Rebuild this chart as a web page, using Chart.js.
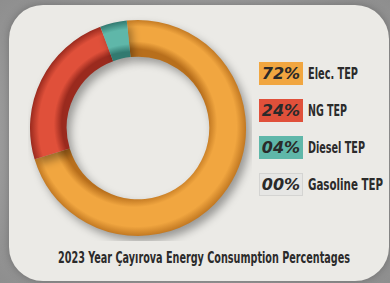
<!DOCTYPE html>
<html>
<head>
<meta charset="utf-8">
<script src="https://cdn.jsdelivr.net/npm/chart.js@4.4.0/dist/chart.umd.min.js"></script>
<style>
  html, body { margin: 0; padding: 0; }
  body {
    width: 390px; height: 283px; overflow: hidden; position: relative;
    background: radial-gradient(ellipse at 50% 50%, #b9b9b9 0%, #8e8e8e 100%);
    font-family: "DejaVu Sans", sans-serif;
  }
  #panel {
    position: absolute; left: 9px; top: 5px; width: 380px; height: 276px;
    background: #ebeae6; border-radius: 34px;
    box-shadow: 0 0 8px rgba(0,0,0,0.25);
  }
  #wrap { position: absolute; left: 28px; top: 15px; width: 224px; height: 226px; }
  #legend { position: absolute; left: 259px; top: 62px; }
  .row { display: flex; align-items: center; height: 23px; margin-bottom: 14px; white-space: nowrap; }
  .box {
    width: 44px; height: 23px; line-height: 23px; text-align: center;
    font-style: italic; font-weight: bold;
    font-size: 16px; color: #2a2a2a;
  }
  .lbl { margin-left: 5px; font-weight: bold; font-size: 16px; color: #2b2b2b; display: inline-block; transform-origin: 0 50%; }
  #title {
    position: absolute; left: 58px; top: 249px; white-space: nowrap;
    font-weight: bold; font-size: 15px; color: #2b2b2b; transform-origin: 0 50%;
  }
</style>
</head>
<body>
<div id="panel"></div>
<div id="wrap"><canvas id="graph"></canvas></div>
<div id="legend"></div>
<div id="title">2023 Year Çayırova Energy Consumption Percentages</div>
<script>
// data
const labels = ['Elec. TEP', 'NG TEP', 'Diesel TEP', 'Gasoline TEP'];
const percents = [72, 24, 4, 0];
const percentText = ['72%', '24%', '04%', '00%'];
const colors = ['#f1a640', '#e0503a', '#5fb7a9', '#e6e6e4'];
const shades = ['#b86f1c', '#9a2a1e', '#327a70', '#bdbdbd'];
// widths of the condensed labels in the picture
const labelWidths = [50, 39, 57, 75];

// tube-like shading for the ring
function ringFill(ctx) {
  const chart = ctx.chart;
  const area = chart.chartArea;
  if (!area) return colors[ctx.dataIndex];
  const arc = chart.getDatasetMeta(0).data[0];
  if (!arc) return colors[ctx.dataIndex];
  const cx = (area.left + area.right) / 2, cy = (area.top + area.bottom) / 2;
  const outer = arc.outerRadius || 110, inner = arc.innerRadius || 74;
  const g = chart.ctx.createRadialGradient(cx - 5, cy - 5, inner, cx, cy, outer);
  const c = colors[ctx.dataIndex], s = shades[ctx.dataIndex];
  g.addColorStop(0, s);
  g.addColorStop(0.25, c);
  g.addColorStop(0.72, c);
  g.addColorStop(1, s);
  return g;
}

// soft drop shadow under the ring
const ringShadow = {
  id: 'ringShadow',
  beforeDatasetsDraw(chart) {
    const c = chart.ctx;
    c.save();
    c.shadowColor = 'rgba(0,0,0,0.35)';
    c.shadowBlur = 9;
    c.shadowOffsetX = 4;
    c.shadowOffsetY = 5;
  },
  afterDatasetsDraw(chart) {
    chart.ctx.restore();
  }
};

let graph = document.getElementById('graph').getContext('2d');

let ringChart = new Chart(graph, {
  type: 'doughnut',
  data: {
    labels: labels,
    datasets: [{
      data: percents,
      backgroundColor: ringFill,
      borderWidth: 0
    }]
  },
  options: {
    responsive: true,
    maintainAspectRatio: false,
    animation: false,
    cutout: '66%',
    rotation: -6,
    layout: { padding: { top: 2, bottom: 2, left: 2, right: 6 } },
    plugins: {
      legend: { display: false },
      tooltip: { enabled: false }
    }
  },
  plugins: [ringShadow]
});

// squeeze text to the condensed look
function fit(el, w) {
  const real = el.getBoundingClientRect().width;
  if (real > 0) el.style.transform = 'scaleX(' + (w / real) + ')';
}

// legend built from the arrays
const legend = document.getElementById('legend');
labels.forEach(function (l, i) {
  const row = document.createElement('div');
  row.className = 'row';
  const box = document.createElement('div');
  box.className = 'box';
  box.style.background = colors[i];
  if (percents[i] === 0) box.style.boxShadow = 'inset 0 0 0 1px #d4d4d2';
  box.textContent = percentText[i];
  const lbl = document.createElement('span');
  lbl.className = 'lbl';
  lbl.textContent = l;
  row.appendChild(box);
  row.appendChild(lbl);
  legend.appendChild(row);
  fit(lbl, labelWidths[i]);
});
fit(document.getElementById('title'), 292);
</script>
</body>
</html>
